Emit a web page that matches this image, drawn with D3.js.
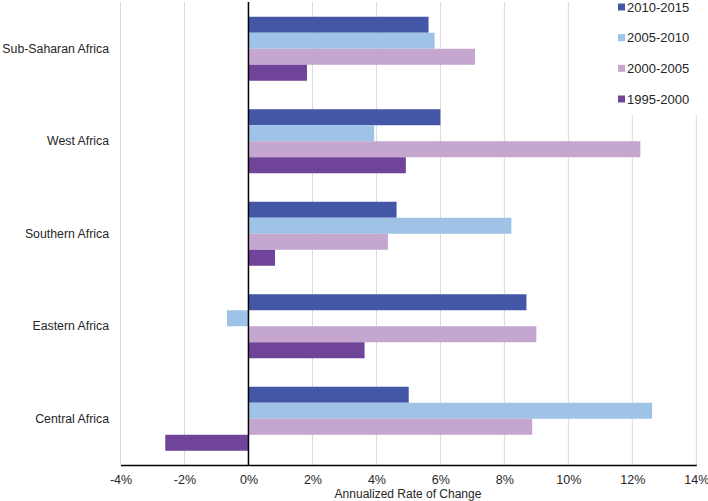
<!DOCTYPE html>
<html><head><meta charset="utf-8">
<script src="https://cdn.jsdelivr.net/npm/d3@7"></script>
<style>body{margin:0;background:#fff}svg{display:block;font-family:"Liberation Sans",Arial,sans-serif}</style>
</head><body><svg id="c" width="708" height="501"></svg>
<script>
const categories = ["Sub-Saharan Africa","West Africa","Southern Africa","Eastern Africa","Central Africa"];
const seriesNames = ["2010-2015","2005-2010","2000-2005","1995-2000"];
const s2010_2015 = [5.63, 6.0, 4.63, 8.69, 5.01];
const s2005_2010 = [5.82, 3.93, 8.22, -0.67, 12.62];
const s2000_2005 = [7.08, 12.25, 4.36, 9.0, 8.87];
const s1995_2000 = [1.83, 4.92, 0.83, 3.63, -2.6];
const tickValues = [-4,-2,0,2,4,6,8,10,12,14];
const xTitle = "Annualized Rate of Change";
const colors = ["#4357a6","#9ec3e6","#c4a6cf","#6f4499"];
const seriesValues = [s2010_2015, s2005_2010, s2000_2005, s1995_2000];

const svg = d3.select("#c");
const x = d3.scaleLinear().domain([-4,14]).range([120.5,696.3]);
const y = d3.scaleBand().domain(categories).range([2.5,465]).paddingInner(0.308).paddingOuter(0.154);
const ys = d3.scaleBand().domain(seriesNames).range([0,y.bandwidth()]);

// gridlines
svg.append("g").selectAll("line").data(tickValues.filter(d=>d!==0)).join("line")
  .attr("x1",d=>x(d)).attr("x2",d=>x(d)).attr("y1",2).attr("y2",465)
  .attr("stroke","#d9d9d9").attr("stroke-width",1);

// bars
const rows = [];
categories.forEach((c,i)=>seriesNames.forEach((s,j)=>rows.push({c,s,v:seriesValues[j][i],col:colors[j]})));
svg.append("g").selectAll("rect").data(rows).join("rect")
  .attr("x",d=>x(Math.min(0,d.v))).attr("width",d=>Math.abs(x(d.v)-x(0)))
  .attr("y",d=>y(d.c)+ys(d.s)).attr("height",ys.bandwidth())
  .attr("fill",d=>d.col);

// zero line
svg.append("line").attr("x1",x(0)).attr("x2",x(0)).attr("y1",2).attr("y2",465)
  .attr("stroke","#000").attr("stroke-width",1.5);

// bottom axis
const xAxis = d3.axisBottom(x).tickValues(tickValues).tickSize(0).tickFormat(d=>d+"%");
const gx = svg.append("g").attr("transform","translate(0,465)").call(xAxis);
gx.select(".domain").attr("stroke","#000").attr("stroke-width",1.5);
gx.selectAll("text").attr("font-size",12.5).attr("fill","#262626").attr("dy","1em").attr("y",6)
  .attr("font-family","'Liberation Sans',Arial,sans-serif");

svg.append("text").attr("x",408).attr("y",498).attr("text-anchor","middle")
  .attr("font-size",12).attr("fill","#262626").text(xTitle);

// category labels
const yAxis = d3.axisLeft(y).tickSize(0);
const gy = svg.append("g").attr("transform","translate(109,0)").call(yAxis);
gy.select(".domain").remove();
gy.selectAll("text").attr("font-size",12.3).attr("fill","#262626").attr("x",0)
  .attr("font-family","'Liberation Sans',Arial,sans-serif");

// legend
const lg = svg.append("g");
lg.append("rect").attr("x",612).attr("y",0).attr("width",96).attr("height",115).attr("fill","#fff");
const ly = d3.scalePoint().domain(seriesNames).range([7,99]);
const li = lg.selectAll("g").data(seriesNames).join("g").attr("transform",d=>`translate(618,${ly(d)})`);
li.append("rect").attr("x",0).attr("y",-3.5).attr("width",7).attr("height",7).attr("fill",(d,i)=>colors[i]);
li.append("text").attr("x",9).attr("y",0).attr("dy","0.35em").attr("font-size",13).attr("fill","#262626").text(d=>d);
</script></body></html>
